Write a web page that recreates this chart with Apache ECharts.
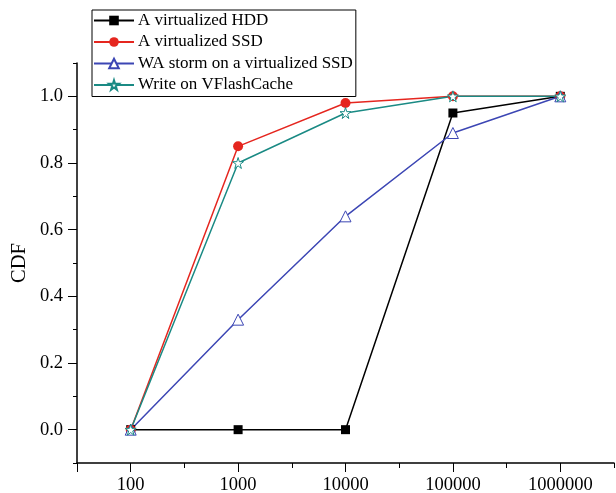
<!DOCTYPE html>
<html>
<head>
<meta charset="utf-8">
<script src="https://cdn.jsdelivr.net/npm/echarts@6/dist/echarts.min.js"></script>
<style>
  html, body { margin: 0; padding: 0; background: #fff; }
  #chart { width: 616px; height: 493px; }
</style>
</head>
<body>
<div id="chart"></div>
<script>
// x categories (log-spaced, drawn at equal steps)
var categories = ['100', '1000', '10000', '100000', '1000000'];
var seriesNames = ['A virtualized HDD', 'A virtualized SSD', 'WA storm on a virtualized SSD', 'Write on VFlashCache'];
var hddValues = [0, 0, 0, 0.95, 1.0];
var ssdValues = [0, 0.85, 0.98, 1.0, 1.0];
var waValues = [0, 0.33, 0.64, 0.89, 1.0];
var vflashValues = [0, 0.80, 0.95, 1.0, 1.0];
var yLabels = [0, 0.2, 0.4, 0.6, 0.8, 1.0];

var FONT = 'Liberation Serif';

function pairs(vals) {
  return vals.map(function (v, i) { return [i, v]; });
}

var chart = echarts.init(document.getElementById('chart'));

var option = {
  animation: false,
  textStyle: { fontFamily: FONT },
  grid: { left: 77, right: 2, top: 63, bottom: 30, containLabel: false, outerBoundsMode: 'none' },
  legend: {
    orient: 'vertical',
    left: 92,
    top: 10,
    padding: [2, 3, 3, 1],
    itemGap: 4.5,
    itemWidth: 40,
    itemHeight: 12,
    borderColor: '#000',
    borderWidth: 1,
    backgroundColor: '#fff',
    textStyle: { fontFamily: FONT, fontSize: 17, color: '#000', padding: [0, 0, 0, -1] },
    data: seriesNames
  },
  xAxis: [{
    type: 'value',
    min: -0.5,
    max: 4.5,
    interval: 0.5,
    splitLine: { show: false },
    axisLine: { onZero: false, lineStyle: { color: '#000', width: 1.5 } },
    axisTick: { length: 5, lineStyle: { color: '#000', width: 1 } },
    axisLabel: { show: false }
  }, {
    type: 'value',
    position: 'bottom',
    min: -0.5,
    max: 4.5,
    splitLine: { show: false },
    axisLine: { show: false, onZero: false },
    axisTick: { length: 9, lineStyle: { color: '#000', width: 1 }, customValues: [-0.5, 0, 1, 2, 3, 4] },
    axisLabel: {
      customValues: [0, 1, 2, 3, 4],
      margin: 13,
      fontFamily: FONT,
      fontSize: 18.5,
      color: '#000',
      formatter: function (v) { return categories[Math.round(v)]; }
    }
  }],
  yAxis: [{
    type: 'value',
    min: -0.1,
    max: 1.1,
    interval: 0.1,
    name: 'CDF',
    nameLocation: 'middle',
    nameGap: 47,
    nameTextStyle: { fontFamily: FONT, fontSize: 20.5, color: '#000' },
    splitLine: { show: false },
    axisLine: { onZero: false, lineStyle: { color: '#000', width: 1.5 } },
    axisTick: { length: 4, lineStyle: { color: '#000', width: 1 } },
    axisLabel: { show: false }
  }, {
    type: 'value',
    position: 'left',
    min: -0.1,
    max: 1.1,
    splitLine: { show: false },
    axisLine: { show: false, onZero: false },
    axisTick: { length: 9, lineStyle: { color: '#000', width: 1 }, customValues: yLabels },
    axisLabel: {
      customValues: yLabels,
      margin: 14,
      fontFamily: FONT,
      fontSize: 18.5,
      color: '#000',
      formatter: function (v) { return v.toFixed(1); }
    }
  }],
  series: [{
    name: seriesNames[0],
    type: 'line',
    data: pairs(hddValues),
    symbol: 'rect',
    symbolSize: 9,
    lineStyle: { width: 1.5, color: '#000' },
    itemStyle: { color: '#000' }
  }, {
    name: seriesNames[1],
    type: 'line',
    data: pairs(ssdValues),
    symbol: 'circle',
    symbolSize: 10,
    lineStyle: { width: 1.5, color: '#e5261f' },
    itemStyle: { color: '#e5261f' }
  }, {
    name: seriesNames[2],
    type: 'line',
    data: pairs(waValues),
    symbol: 'triangle',
    symbolSize: 11,
    lineStyle: { width: 1.5, color: '#3c46b4' },
    itemStyle: { color: '#fff', borderColor: '#3c46b4', borderWidth: 1 }
  }, {
    name: seriesNames[3],
    type: 'line',
    data: pairs(vflashValues),
    symbol: 'path://M50,0 L61,35 L98,35 L68,57 L79,92 L50,70 L21,92 L32,57 L2,35 L39,35 Z',
    symbolSize: 11,
    lineStyle: { width: 1.5, color: '#1a8a84' },
    itemStyle: { color: '#fff', borderColor: '#1a8a84', borderWidth: 1 }
  }]
};

chart.setOption(option);
window.onresize = chart.resize;
</script>
</body>
</html>
